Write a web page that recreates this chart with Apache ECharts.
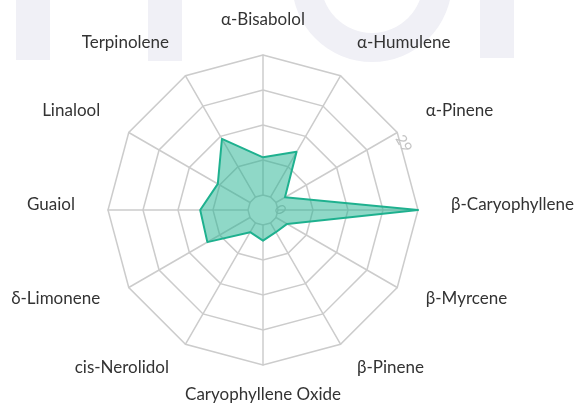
<!DOCTYPE html>
<html>
<head>
<meta charset="utf-8">
<script src="https://cdn.jsdelivr.net/npm/echarts@6/dist/echarts.min.js"></script>
<style>
  html, body { margin: 0; padding: 0; background: #fff; }
  #chart { width: 577px; height: 405px; }
</style>
</head>
<body>
<div id="chart"></div>
<script>
// indicators, counter-clockwise from the top (echarts order)
var terpenes = ['α-Bisabolol', 'Terpinolene', 'Linalool', 'Guaiol', 'δ-Limonene', 'cis-Nerolidol',
  'Caryophyllene Oxide', 'β-Pinene', 'β-Myrcene', 'β-Caryophyllene', 'α-Pinene', 'α-Humulene'];
var amounts = [7.8, 13.9, 7.7, 9.9, 10.2, 2.2, 3.25, 2.2, 2.65, 29, 2.15, 10.8];
var axisMin = 0;
var axisMax = 29;
var labelledAxis = 'α-Pinene';

var chart = echarts.init(document.getElementById('chart'));

var indicators = [];
for (var i = 0; i < terpenes.length; i++) {
  var ind = { name: terpenes[i], min: axisMin, max: axisMax };
  // top and bottom names sit closer to the web
  if (i == 0) ind.nameGap = 15;
  if (i == 6) ind.nameGap = 20;
  if (terpenes[i] == labelledAxis) {
    // only this axis carries the min / max labels
    ind.axisLabel = {
      show: true,
      rotate: -60,
      margin: -4,
      align: 'left',
      color: '#c4c4c4',
      fontSize: 15,
      fontFamily: 'Lato',
      formatter: function (v) {
        return (v == axisMin || v == axisMax) ? String(v) : '';
      }
    };
  }
  indicators.push(ind);
}

// faint watermark behind the chart
var wm = '#f0f0f6';

chart.setOption({
  animation: false,
  backgroundColor: '#fff',
  graphic: [
    { type: 'rect', z: -10, silent: true, shape: { x: 16, y: 0, width: 34, height: 60 }, style: { fill: wm } },
    { type: 'rect', z: -10, silent: true, shape: { x: 148, y: 0, width: 34, height: 61 }, style: { fill: wm } },
    { type: 'ring', z: -10, silent: true, shape: { cx: 372, cy: -18, r: 80, r0: 51 }, style: { fill: wm } },
    { type: 'rect', z: -10, silent: true, shape: { x: 480, y: 0, width: 34, height: 58 }, style: { fill: wm } }
  ],
  radar: {
    center: [263, 210],
    radius: [15, 155],
    startAngle: 90,
    splitNumber: 4,
    shape: 'polygon',
    indicator: indicators,
    axisName: {
      color: '#333',
      fontSize: 17,
      fontFamily: 'Lato',
      // empty spacer line lifts the names a little
      formatter: function (n) {
        return '{n|' + n + '}\n{s| }';
      },
      rich: {
        n: { color: '#333', fontSize: 17, fontFamily: 'Lato', lineHeight: 20 },
        s: { fontSize: 1, lineHeight: 10 }
      }
    },
    nameGap: 33,
    axisLine: { lineStyle: { color: '#cccccc', width: 1.5 } },
    splitLine: { lineStyle: { color: '#cccccc', width: 1.5 } },
    splitArea: { show: false },
    axisLabel: { show: false }
  },
  series: [{
    type: 'radar',
    symbol: 'none',
    lineStyle: { color: '#1fb18f', width: 2 },
    areaStyle: { color: '#1fb18f', opacity: 0.5 },
    data: [{ value: amounts, name: 'Terpenes' }]
  }]
});
</script>
</body>
</html>
